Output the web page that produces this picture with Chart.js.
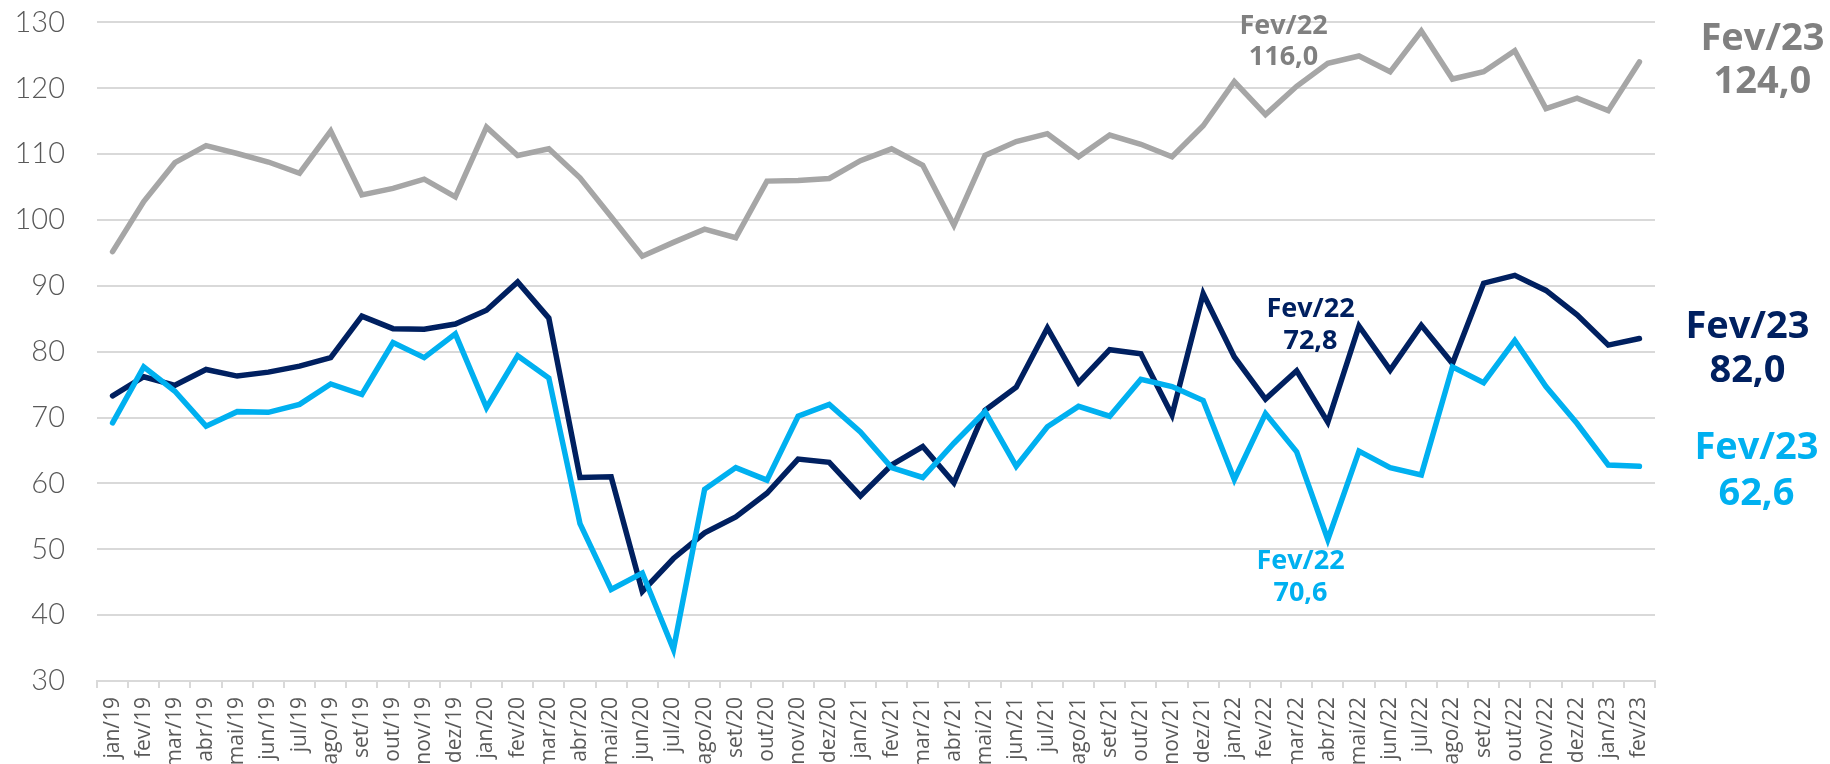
<!DOCTYPE html>
<html lang="pt-BR">
<head>
<meta charset="utf-8">
<title>Índices mensais</title>
<script src="https://cdn.jsdelivr.net/npm/chart.js@4.4.1/dist/chart.umd.min.js"></script>
<style>
  html, body { margin: 0; padding: 0; background: #fff; overflow: hidden; }
  #wrap { width: 1830px; height: 764px; }
</style>
</head>
<body>
<div id="wrap"><canvas id="grafico" width="1830" height="764"></canvas></div>
<script>
// ============ DADOS ============
const meses = [
  'jan/19','fev/19','mar/19','abr/19','mai/19','jun/19','jul/19','ago/19','set/19','out/19','nov/19','dez/19',
  'jan/20','fev/20','mar/20','abr/20','mai/20','jun/20','jul/20','ago/20','set/20','out/20','nov/20','dez/20',
  'jan/21','fev/21','mar/21','abr/21','mai/21','jun/21','jul/21','ago/21','set/21','out/21','nov/21','dez/21',
  'jan/22','fev/22','mar/22','abr/22','mai/22','jun/22','jul/22','ago/22','set/22','out/22','nov/22','dez/22',
  'jan/23','fev/23'
];

const serieCinza = [
  95.2, 102.8, 108.7, 111.3, 110.1, 108.8, 107.1, 113.5, 103.8, 104.8, 106.2, 103.5,
  114.1, 109.8, 110.8, 106.4, 100.5, 94.5, 96.6, 98.6, 97.3, 105.9, 106.0, 106.3,
  109.0, 110.8, 108.3, 99.2, 109.8, 111.9, 113.1, 109.6, 112.9, 111.5, 109.6, 114.3,
  121.0, 116.0, 120.3, 123.8, 124.9, 122.5, 128.7, 121.4, 122.5, 125.7, 116.9, 118.5,
  116.6, 124.0
];

const serieMarinho = [
  73.3, 76.2, 74.9, 77.3, 76.3, 76.9, 77.8, 79.1, 85.4, 83.5, 83.4, 84.2,
  86.3, 90.6, 85.1, 60.9, 61.0, 43.6, 48.6, 52.5, 54.9, 58.5, 63.7, 63.2,
  58.1, 62.8, 65.6, 60.1, 71.1, 74.6, 83.6, 75.3, 80.3, 79.7, 70.4, 88.8,
  79.2, 72.8, 77.1, 69.3, 83.9, 77.2, 84.0, 78.2, 90.4, 91.6, 89.3, 85.6,
  81.0, 82.0
];

const serieAzul = [
  69.2, 77.7, 74.0, 68.7, 70.9, 70.8, 72.0, 75.1, 73.5, 81.4, 79.1, 82.7,
  71.5, 79.4, 76.0, 53.9, 43.9, 46.4, 34.8, 59.1, 62.4, 60.5, 70.2, 72.0,
  67.8, 62.4, 60.9, 66.1, 70.9, 62.6, 68.6, 71.7, 70.2, 75.8, 74.7, 72.6,
  60.6, 70.6, 64.8, 51.5, 64.9, 62.4, 61.3, 77.7, 75.3, 81.7, 74.7, 69.1,
  62.8, 62.6
];

const escalaY = { min: 30, max: 130, passo: 10 };

// ============ ESTILO ============
const COR = { cinza: '#a6a6a6', cinzaTxt: '#808080', marinho: '#002060', azul: '#00b0f0', grade: '#d9d9d9', eixo: '#595959' };

// rótulos de destaque: mês de referência + deslocamento em px, nível em unidades do eixo Y
const destaques = [
  { linhas: ['Fev/22', '116,0'], cor: COR.cinzaTxt, mes: 'fev/22', dx: 18,  nivel: 129.4, tam: 27, passo: 31 },
  { linhas: ['Fev/22', '72,8'],  cor: COR.marinho,  mes: 'fev/22', dx: 45,  nivel: 86.4,  tam: 27, passo: 32 },
  { linhas: ['Fev/22', '70,6'],  cor: COR.azul,     mes: 'fev/22', dx: 35,  nivel: 48.2,  tam: 27, passo: 32 },
  { linhas: ['Fev/23', '124,0'], cor: COR.cinzaTxt, mes: 'fev/23', dx: 123, nivel: 127.5, tam: 38, passo: 43 },
  { linhas: ['Fev/23', '82,0'],  cor: COR.marinho,  mes: 'fev/23', dx: 108, nivel: 83.7,  tam: 38, passo: 44 },
  { linhas: ['Fev/23', '62,6'],  cor: COR.azul,     mes: 'fev/23', dx: 117, nivel: 65.3,  tam: 38, passo: 46 },
];

const pluginDestaques = {
  id: 'destaques',
  afterDatasetsDraw(chart) {
    const { ctx, scales: { x, y } } = chart;
    ctx.save();
    ctx.textAlign = 'center';
    ctx.textBaseline = 'middle';
    destaques.forEach(d => {
      const px = x.getPixelForValue(meses.indexOf(d.mes)) + d.dx;
      const py = y.getPixelForValue(d.nivel);
      ctx.fillStyle = d.cor;
      ctx.font = `700 ${d.tam}px "Open Sans", sans-serif`;
      d.linhas.forEach((t, i) => ctx.fillText(t, px, py + i * d.passo));
    });
    ctx.restore();
  }
};

function serie(data, cor) {
  return {
    data, borderColor: cor, backgroundColor: cor, borderWidth: 5.5,
    pointRadius: 0, tension: 0, borderCapStyle: 'round', borderJoinStyle: 'miter', fill: false,
  };
}

new Chart(document.getElementById('grafico'), {
  type: 'line',
  data: {
    labels: meses,
    datasets: [serie(serieCinza, COR.cinza), serie(serieAzul, COR.azul), serie(serieMarinho, COR.marinho)],
  },
  options: {
    responsive: false, animation: false,
    layout: { padding: { top: 0, right: 175, left: 0, bottom: 0 } },
    plugins: { legend: { display: false }, tooltip: { enabled: false } },
    scales: {
      x: {
        offset: true,
        grid: { offset: true, drawOnChartArea: false, drawTicks: true, tickLength: 7, color: COR.grade, lineWidth: 2 },
        border: { color: COR.grade, width: 2 },
        ticks: { autoSkip: false, minRotation: 90, maxRotation: 90, padding: 9, color: COR.eixo, font: { family: 'Open Sans', size: 21 } },
        afterFit(s) { s.height = 83; },
      },
      y: {
        min: escalaY.min, max: escalaY.max,
        // traço invisível: afasta os rótulos do eixo sem inflar o padding superior
        grid: { color: COR.grade, lineWidth: 2, drawTicks: true, tickLength: 27, tickColor: 'rgba(0,0,0,0)' },
        border: { display: false },
        ticks: { stepSize: escalaY.passo, padding: 5, color: COR.eixo, font: { family: 'Lato', size: 29, weight: 300 } },
        afterFit(s) { s.width = 97; },
      },
    },
  },
  plugins: [pluginDestaques],
});
</script>
</body>
</html>
